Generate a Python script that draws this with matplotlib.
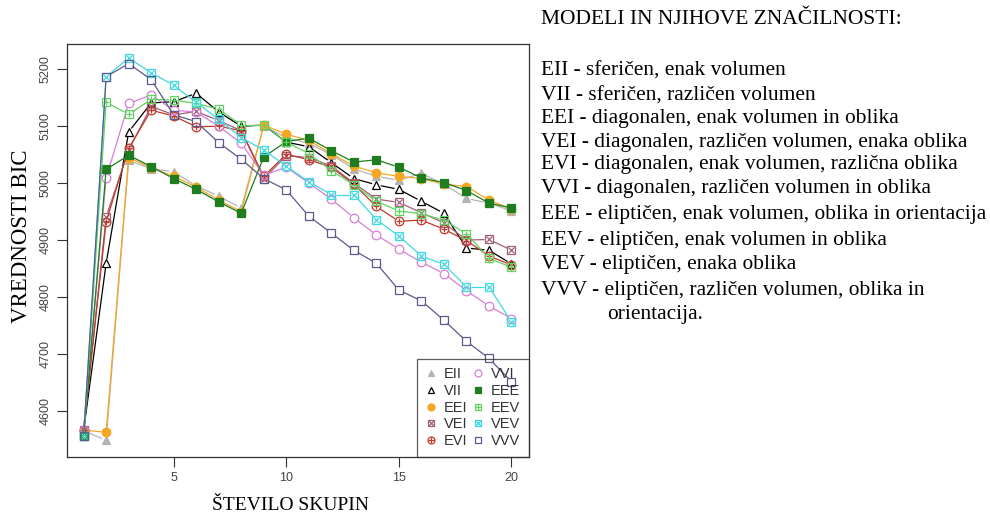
import numpy as np
import matplotlib
matplotlib.use("Agg")
from matplotlib import pyplot as plt
from matplotlib.lines import Line2D
from matplotlib.collections import LineCollection
from matplotlib.legend_handler import HandlerTuple

# BIC values for each mclust model, G = 1..20
groups = list(range(1, 21))
bic_EII = [4565, 4548, 5040, 5025, 5020, 4995, 4977, 4956, 5100, 5080, 5070, 5050, 5025, 5012, 5005, 5017, 4998, 4973, 4965, 4951]
bic_VII = [4565, 4859, 5090, 5141, 5143, 5158, 5125, 5100, 5102, 5072, 5064, 5036, 5008, 4997, 4989, 4968, 4947, 4886, 4882, 4858]
bic_EEI = [4566, 4562, 5045, 5027, 5012, 4993, 4970, 4950, 5102, 5086, 5075, 5052, 5030, 5018, 5012, 5008, 4998, 4994, 4970, 4955]
bic_VEI = [4566, 4941, 5058, 5135, 5120, 5126, 5110, 5092, 5008, 5048, 5045, 5030, 5000, 4972, 4966, 4948, 4930, 4900, 4901, 4882]
bic_EVI = [4566, 4932, 5061, 5128, 5118, 5099, 5100, 5092, 5012, 5051, 5041, 5028, 4998, 4959, 4933, 4935, 4919, 4899, 4872, 4856]
bic_VVI = [4566, 5009, 5140, 5155, 5128, 5125, 5100, 5070, 5014, 5028, 5000, 4972, 4939, 4909, 4884, 4861, 4841, 4811, 4784, 4762]
bic_EEE = [4555, 5024, 5049, 5029, 5008, 4989, 4967, 4947, 5046, 5073, 5079, 5057, 5037, 5041, 5028, 5009, 5001, 4987, 4965, 4956]
bic_EEV = [4555, 5142, 5121, 5147, 5146, 5140, 5130, 5102, 5102, 5072, 5052, 5022, 4997, 4968, 4951, 4946, 4935, 4911, 4868, 4852]
bic_VEV = [4555, 5187, 5220, 5194, 5172, 5142, 5112, 5080, 5058, 5030, 5002, 4980, 4980, 4936, 4907, 4872, 4857, 4818, 4818, 4756]
bic_VVV = [4555, 5187, 5210, 5182, 5120, 5108, 5071, 5042, 5008, 4988, 4942, 4912, 4882, 4859, 4812, 4793, 4759, 4722, 4692, 4651]

models = ["EII", "VII", "EEI", "VEI", "EVI", "VVI", "EEE", "EEV", "VEV", "VVV"]
series = [bic_EII, bic_VII, bic_EEI, bic_VEI, bic_EVI, bic_VVI, bic_EEE, bic_EEV, bic_VEV, bic_VVV]

descriptions = [
    "EII - sferičen, enak volumen",
    "VII - sferičen, različen volumen",
    "EEI - diagonalen, enak volumen in oblika",
    "VEI - diagonalen, različen volumen, enaka oblika",
    "EVI - diagonalen, enak volumen, različna oblika",
    "VVI - diagonalen, različen volumen in oblika",
    "EEE - eliptičen, enak volumen, oblika in orientacija",
    "EEV - eliptičen, enak volumen in oblika",
    "VEV - eliptičen, enaka oblika",
    "VVV - eliptičen, različen volumen, oblika in",
]

colors = ["#b4b4b4", "#000000", "#f5a623", "#a0607a", "#c0392b",
          "#d67fd6", "#1e7d1e", "#5fd35f", "#3fd9e0", "#5a5a8c"]
# (marker, filled, overlay marker)
symbols = [("^", True, None), ("^", False, None), ("o", True, None), ("s", False, "x"),
           ("o", False, "+"), ("o", False, None), ("s", True, None), ("s", False, "+"),
           ("s", False, "x"), ("s", False, None)]

W, H = 990, 518
fig = plt.figure(figsize=(W / 100, H / 100), dpi=100)
ax = fig.add_axes([66.5 / W, (H - 456.7) / H, (528.6 - 66.5) / W, (456.7 - 44) / H])
ax.set_xlim(0.24, 20.76)
ax.set_ylim(4519.2, 5244.5)

fig.canvas.draw()
trans = ax.transData
inv = trans.inverted()
gap = 4.5  # px left blank around each point, like R type="b"

for name, vals, col, sym in zip(models, series, colors, symbols):
    pts = trans.transform(np.column_stack([groups, vals]))
    segs = []
    for p, q in zip(pts[:-1], pts[1:]):
        d = q - p
        L = np.hypot(*d)
        if L <= 2 * gap:
            continue
        u = d / L
        segs.append(inv.transform([p + u * gap, q - u * gap]))
    ax.add_collection(LineCollection(segs, colors=col, linewidths=0.9))
    mk, filled, over = sym
    ax.plot(groups, vals, linestyle="none", marker=mk, markersize=6.2,
            markerfacecolor=col if filled else "none", markeredgecolor=col, markeredgewidth=0.9)
    if over is not None:
        ax.plot(groups, vals, linestyle="none", marker=over, markersize=4.6,
                color=col, markeredgewidth=0.9)

# legend proxies (markers only, overlaid for the composite symbols)
handles = []
for col, sym in zip(colors, symbols):
    mk, filled, over = sym
    h1 = Line2D([], [], linestyle="none", marker=mk, markersize=5,
                markerfacecolor=col if filled else "none", markeredgecolor=col, markeredgewidth=0.9)
    if over is None:
        handles.append(h1)
    else:
        h2 = Line2D([], [], linestyle="none", marker=over, markersize=3.8, color=col, markeredgewidth=0.9)
        handles.append((h1, h2))

leg = ax.legend(handles, models, ncol=2, loc="lower right", borderaxespad=0,
                handler_map={tuple: HandlerTuple(ndivide=1, pad=0)},
                prop={"family": "Liberation Sans", "size": 10.5}, fancybox=False,
                handlelength=0.8, handletextpad=0.45, columnspacing=0.35,
                labelspacing=0.18, borderpad=0.6)
leg.get_frame().set_facecolor("none")
leg.get_frame().set_edgecolor("#333333")
leg.get_frame().set_linewidth(0.9)
for t in leg.get_texts():
    t.set_color("#333333")

ax.set_xticks([5, 10, 15, 20])
ax.set_yticks(range(4600, 5201, 100))
ax.tick_params(direction="out", length=7, width=0.8, color="#333333", labelcolor="#444444",
               labelsize=9, pad=4)
for lab in ax.get_yticklabels():
    lab.set_rotation(90)
    lab.set_va("center")
for lab in ax.get_xticklabels() + ax.get_yticklabels():
    lab.set_family("Liberation Sans")
for s in ax.spines.values():
    s.set_linewidth(0.9)
    s.set_color("#333333")

serif = "Liberation Serif"
fig.text(290 / W, 1 - 505 / H, "ŠTEVILO SKUPIN", family=serif, fontsize=14,
         ha="center", va="center")
fig.text(22 / W, 1 - 236 / H, "VREDNOSTI BIC", family=serif, fontsize=16.5,
         ha="center", va="center", rotation=90)

fig.text(541 / W, 1 - 19 / H, "MODELI IN NJIHOVE ZNAČILNOSTI:", family=serif,
         fontsize=15.5, ha="left", va="center")
line_y = [71, 96, 118, 142, 165, 189, 214, 240, 265, 290]
for yy, txt in zip(line_y, descriptions):
    fig.text(541 / W, 1 - yy / H, txt, family=serif, fontsize=15.4, ha="left", va="center")
fig.text(607 / W, 1 - 315 / H, "orientacija.", family=serif, fontsize=15.4,
         ha="left", va="center")

fig.savefig("out.png", dpi=100)
